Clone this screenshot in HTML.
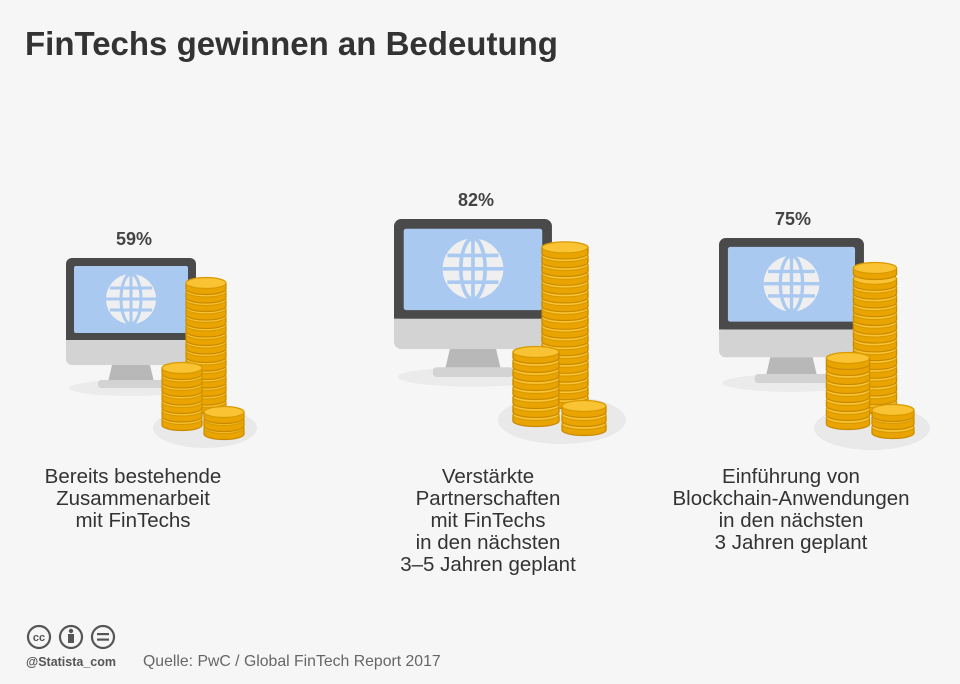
<!DOCTYPE html>
<html><head><meta charset="utf-8"><style>
body{margin:0;background:#f6f6f6;}
svg{display:block;font-family:"Liberation Sans",sans-serif;}
</style></head><body>
<svg width="960" height="684" viewBox="0 0 960 684">
<defs>
<g id="coin"><path d="M-20 0v6a20 5.5 0 0 0 40 0v-6z" fill="#eaa400" stroke="#c98a00" stroke-width="1.2"/><ellipse rx="20" ry="5.5" fill="#f9c333" stroke="#d99a00" stroke-width="1.2"/></g>
<g id="mon">
<ellipse cx="65" cy="130" rx="62" ry="8" fill="#ebebeb"/>
<rect x="0" y="70" width="130" height="37" rx="6" fill="#d3d3d3"/>
<rect x="0" y="0" width="130" height="82" rx="6" fill="#4a4a4a"/>
<rect x="0" y="74" width="130" height="8" fill="#4a4a4a"/>
<rect x="8" y="8" width="114" height="67" rx="2" fill="#a9c9f0"/>
<circle cx="65" cy="41" r="25" fill="#efefef"/>
<g stroke="#a9c9f0" stroke-width="3" fill="none">
<ellipse cx="65" cy="41" rx="10" ry="25"/>
<line x1="65" y1="16" x2="65" y2="66"/>
<line x1="40" y1="41" x2="90" y2="41"/>
<line x1="44" y1="30" x2="86" y2="30"/>
<line x1="44" y1="52" x2="86" y2="52"/>
</g>
<polygon points="46,107 84,107 88,124 42,124" fill="#b8b8b8"/>
<rect x="32" y="122" width="66" height="8" rx="3" fill="#d3d3d3"/>
</g>
</defs>
<text x="25" y="55" font-size="33" font-weight="bold" fill="#333">FinTechs gewinnen an Bedeutung</text>

<!-- group 1 -->
<use href="#mon" transform="translate(66,258)"/>
<ellipse cx="205" cy="428" rx="52" ry="20" fill="#e9e9e9"/>
<g transform="translate(206,0)">
<use href="#coin" y="402"/><use href="#coin" y="393.5"/><use href="#coin" y="385"/><use href="#coin" y="376.5"/><use href="#coin" y="368"/><use href="#coin" y="359.5"/><use href="#coin" y="351"/><use href="#coin" y="342.5"/><use href="#coin" y="334"/><use href="#coin" y="325.5"/><use href="#coin" y="317"/><use href="#coin" y="308.5"/><use href="#coin" y="300"/><use href="#coin" y="291.5"/><use href="#coin" y="283"/>
</g>
<g transform="translate(182,0)">
<use href="#coin" y="419"/><use href="#coin" y="410.5"/><use href="#coin" y="402"/><use href="#coin" y="393.5"/><use href="#coin" y="385"/><use href="#coin" y="376.5"/><use href="#coin" y="368"/>
</g>
<g transform="translate(224,0)">
<use href="#coin" y="428"/><use href="#coin" y="420"/><use href="#coin" y="412"/>
</g>

<!-- group 2 -->
<use href="#mon" transform="translate(394,219) scale(1.215)"/>
<ellipse cx="562" cy="420" rx="64" ry="24" fill="#e9e9e9"/>
<g transform="translate(565,0) scale(1.15,1)">
<use href="#coin" y="397"/><use href="#coin" y="388.2"/><use href="#coin" y="379.4"/><use href="#coin" y="370.6"/><use href="#coin" y="361.8"/><use href="#coin" y="353"/><use href="#coin" y="344.2"/><use href="#coin" y="335.4"/><use href="#coin" y="326.6"/><use href="#coin" y="317.8"/><use href="#coin" y="309"/><use href="#coin" y="300.2"/><use href="#coin" y="291.4"/><use href="#coin" y="282.6"/><use href="#coin" y="273.8"/><use href="#coin" y="265"/><use href="#coin" y="256.2"/><use href="#coin" y="247.4"/>
</g>
<g transform="translate(536,0) scale(1.15,1)">
<use href="#coin" y="415"/><use href="#coin" y="406"/><use href="#coin" y="397"/><use href="#coin" y="388"/><use href="#coin" y="379"/><use href="#coin" y="370"/><use href="#coin" y="361"/><use href="#coin" y="352"/>
</g>
<g transform="translate(584,0) scale(1.1,1)">
<use href="#coin" y="424"/><use href="#coin" y="415"/><use href="#coin" y="406"/>
</g>

<!-- group 3 -->
<use href="#mon" transform="translate(719,238) scale(1.115)"/>
<ellipse cx="872" cy="428" rx="58" ry="22" fill="#e9e9e9"/>
<g transform="translate(875,0) scale(1.08,1)">
<use href="#coin" y="402"/><use href="#coin" y="393.2"/><use href="#coin" y="384.4"/><use href="#coin" y="375.6"/><use href="#coin" y="366.8"/><use href="#coin" y="358"/><use href="#coin" y="349.2"/><use href="#coin" y="340.4"/><use href="#coin" y="331.6"/><use href="#coin" y="322.8"/><use href="#coin" y="314"/><use href="#coin" y="305.2"/><use href="#coin" y="296.4"/><use href="#coin" y="287.6"/><use href="#coin" y="278.8"/><use href="#coin" y="268"/>
</g>
<g transform="translate(848,0) scale(1.08,1)">
<use href="#coin" y="418"/><use href="#coin" y="409"/><use href="#coin" y="400"/><use href="#coin" y="391"/><use href="#coin" y="382"/><use href="#coin" y="373"/><use href="#coin" y="364"/><use href="#coin" y="358"/>
</g>
<g transform="translate(893,0) scale(1.05,1)">
<use href="#coin" y="427"/><use href="#coin" y="418"/><use href="#coin" y="410"/>
</g>

<g font-size="18" font-weight="bold" fill="#444" text-anchor="middle">
<text x="134" y="245">59%</text>
<text x="476" y="206">82%</text>
<text x="793" y="225">75%</text>
</g>
<g font-size="20.5" fill="#333" text-anchor="middle">
<text x="133" y="483">Bereits bestehende</text>
<text x="133" y="505">Zusammenarbeit</text>
<text x="133" y="527">mit FinTechs</text>
<text x="488" y="483">Verstärkte</text>
<text x="488" y="505">Partnerschaften</text>
<text x="488" y="527">mit FinTechs</text>
<text x="488" y="549">in den nächsten</text>
<text x="488" y="571">3–5 Jahren geplant</text>
<text x="791" y="483">Einführung von</text>
<text x="791" y="505">Blockchain-Anwendungen</text>
<text x="791" y="527">in den nächsten</text>
<text x="791" y="549">3 Jahren geplant</text>
</g>

<g fill="none" stroke="#555" stroke-width="2.2">
<circle cx="39" cy="637" r="11"/><circle cx="71" cy="637" r="11"/><circle cx="103" cy="637" r="11"/>
</g>
<text x="39" y="641" font-size="11" font-weight="bold" fill="#555" text-anchor="middle">cc</text>
<circle cx="71" cy="631" r="2.2" fill="#555"/><rect x="68" y="634" width="6" height="9" fill="#555"/>
<rect x="97" y="633" width="12" height="2.2" fill="#555"/><rect x="97" y="638.5" width="12" height="2.2" fill="#555"/>
<text x="26" y="666" font-size="12.5" font-weight="bold" fill="#555">@Statista_com</text>
<text x="143" y="666" font-size="15.8" fill="#666">Quelle: PwC / Global FinTech Report 2017</text>
</svg>
</body></html>
